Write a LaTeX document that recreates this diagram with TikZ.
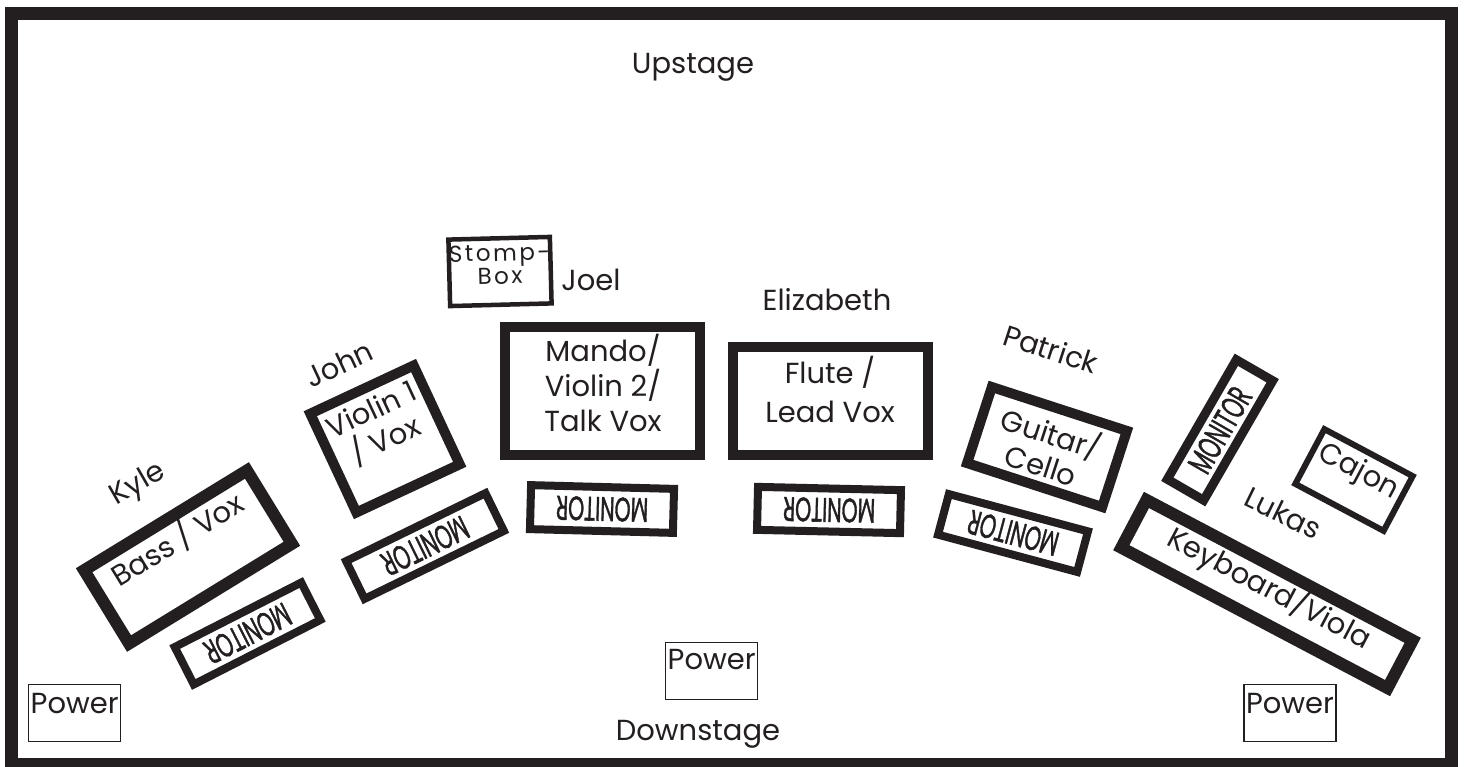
\documentclass[tikz,border=0pt]{standalone}
\usepackage{fontspec}
\usepackage{graphicx}
\setmainfont{Poppins}
\newfontfamily\monfont[FakeBold=1.6]{Poppins}
\newfontfamily\stompfont[LetterSpace=11]{Poppins}
\newcommand{\montext}{\scalebox{0.6}[1]{MONITOR}}
\usetikzlibrary{calc}
\definecolor{ink}{HTML}{231F20}
\begin{document}
\begin{tikzpicture}[x=1pt,y=-1pt,
  every node/.style={inner sep=0pt,outer sep=0pt,text=ink},
  lbl/.style={font=\fontsize{29}{33}\selectfont,align=center},
  heavy/.style={draw=ink,line width=#1,rectangle},
  mon/.style={draw=ink,line width=8pt,rectangle,font=\monfont\fontsize{34}{34}\selectfont},
  powerbox/.style={draw=ink,line width=1.5pt,rectangle,minimum width=92pt,minimum height=57pt},
  plbl/.style={font=\fontsize{29}{33}\selectfont,anchor=base}]
\useasboundingbox (0,0) rectangle (1465,766);
\fill[white] (0,0) rectangle (1465,766);
% stage frame
\draw[ink,line width=13pt] (11.5,13.5) rectangle (1451.5,764.5);
\node[plbl] (up) at (693,73) {Upstage};
\node[plbl] (down) at (698,740) {Downstage};
% power boxes
\node[powerbox] (pwl) at (74.7,713.2) {};
\node[plbl] (pwlt) at ($(pwl.north)+(0,29)$) {Power};
\node[powerbox] (pwc) at (711.7,670.9) {};
\node[plbl] (pwct) at ($(pwc.north)+(0,26.6)$) {Power};
\node[powerbox] (pwr) at (1290,712.8) {};
\node[plbl] (pwrt) at ($(pwr.north)+(0,29.4)$) {Power};
% Kyle
\node[lbl,rotate=30] (kyle) at (138,485) {Kyle};
\node[heavy=12pt,minimum width=191pt,minimum height=86pt,rotate=31.5] (bass) at (188,557) {};
\node[lbl,rotate=31.5] (basst) at ($(bass.center)!21pt!(bass.north)$) {Bass / Vox};
\node[mon,minimum width=142pt,minimum height=42pt,rotate=207] (kmon) at (247.5,633.5) {\montext};
% John
\node[lbl,rotate=25] (john) at (339,364) {John};
\node[heavy=10pt,minimum width=114pt,minimum height=109pt,rotate=25] (violin) at (385,439) {};
\node[lbl,rotate=25] (violint) at ($(violin.center)!14pt!(violin.north)$) {Violin 1\\/ Vox};
\node[mon,minimum width=155pt,minimum height=42pt,rotate=206] (jmon) at (425,546) {\montext};
% Joel
\node[draw=ink,line width=4.5pt,rectangle,minimum width=101.5pt,minimum height=66.5pt,rotate=1.5] (stomp) at (500,271.5) {};
\node[font=\stompfont\fontsize{23}{23}\selectfont,align=center,rotate=1.5] (stompt) at ($(stomp.center)!7pt!(stomp.north)$) {Stomp-\\Box};
\node[lbl] (joel) at (591,280) {Joel};
\node[heavy=10pt,minimum width=195pt,minimum height=128pt] (mando) at (602.5,391) {};
\node[lbl,font=\fontsize{29}{35}\selectfont] (mandot) at (603,383) {Mando/\\Violin 2/\\Talk Vox};
\node[mon,minimum width=143pt,minimum height=44pt,rotate=178.5] (mmon) at (602,509) {\montext};
% Elizabeth
\node[lbl] (eliz) at (827,300) {Elizabeth};
\node[heavy=10pt,minimum width=195pt,minimum height=108pt] (flute) at (830.5,401) {};
\node[lbl,font=\fontsize{29}{39}\selectfont] (flutet) at (830,389) {Flute /\\Lead Vox};
\node[mon,minimum width=143pt,minimum height=43pt,rotate=178.7] (fmon) at (829,510) {\montext};
% Patrick
\node[lbl,rotate=-18] (patrick) at (1051,349) {Patrick};
\node[heavy=10pt,minimum width=142pt,minimum height=80pt,rotate=-18] (guitar) at (1047,447) {};
\node[lbl,rotate=-18] (guitart) at (guitar.center) {Guitar/\\Cello};
\node[mon,minimum width=144pt,minimum height=42pt,rotate=165] (pmon) at (1013,533) {\montext};
% Lukas
\node[mon,line width=9pt,minimum width=138pt,minimum height=42pt,rotate=60] (lmon) at (1220,430) {\montext};
\node[draw=ink,line width=6pt,rectangle,minimum width=100pt,minimum height=62pt,rotate=-28] (cajon) at (1354,480) {};
\node[lbl,rotate=-28] (cajont) at ($(cajon.center)!9pt!(cajon.north)$) {Cajon};
\node[lbl,rotate=-26] (lukas) at (1283,513) {Lukas};
\node[heavy=12pt,minimum width=301pt,minimum height=54pt,rotate=-27.8] (keys) at (1267,594) {};
\node[lbl,rotate=-27.8] (keyst) at ($(keys.center)!6pt!(keys.north)$) {Keyboard/Viola};
\end{tikzpicture}
\end{document}
